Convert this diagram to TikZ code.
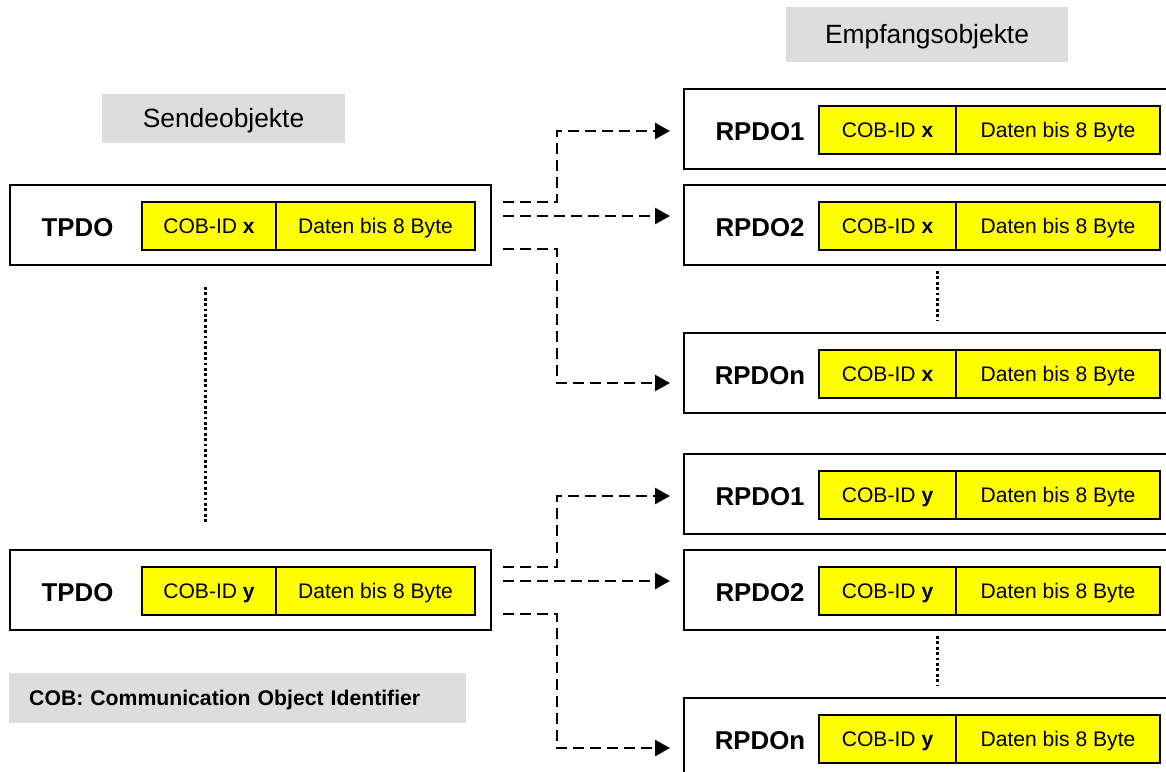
\documentclass[tikz,border=0pt]{standalone}
\usepackage{fontspec}
\setmainfont{Liberation Sans}
\usetikzlibrary{arrows.meta,positioning}
\definecolor{panelgray}{HTML}{DDDDDD}
\definecolor{fieldyellow}{HTML}{FFFF00}

\begin{document}
\begin{tikzpicture}[x=1pt, y=-1pt, every node/.style={inner sep=0pt}, title/.style={fill=panelgray, font=\fontsize{26.4}{30}\selectfont, text height=18.9pt, text depth=0pt}, pdobox/.style={draw, line width=2pt, minimum height=80pt}, pdolabel/.style={font=\fontsize{25.8}{30}\selectfont\bfseries, text height=18.5pt, text depth=0pt}, field/.style={draw, line width=2pt, outer sep=0pt, fill=fieldyellow, font=\fontsize{21.1}{25}\selectfont, minimum height=48pt, text height=15.1pt, text depth=0pt}, note/.style={fill=panelgray, font=\fontsize{21.2}{25}\selectfont\bfseries, inner xsep=20pt, text width=417pt, align=left, minimum height=50pt, text height=15.2pt, text depth=0pt}, link/.style={dash pattern=on 11pt off 6pt, line width=2.4pt, -{Triangle[length=15pt,width=16pt]}}, more/.style={dash pattern=on 2.8pt off 2.6pt, line width=3pt}]
\useasboundingbox (0,0) rectangle (1166,771);
\clip (0,0) rectangle (1166,771);
\node[title, minimum width=243pt, minimum height=49pt] (send) at (223.5,118.5) {Sendeobjekte};
\node[title, minimum width=282pt, minimum height=55pt] (recv) at (927,34.5) {Empfangsobjekte};
% TPDO with COB-ID x
\node[pdobox, minimum width=481pt, anchor=north west] (tpdoX) at (9,184) {};
\node[pdolabel] (tpdoXname) at ([xshift=68.5pt,yshift=-2pt]tpdoX.west) {TPDO};
\node[field, minimum width=134pt, anchor=west] (tpdoXcob) at ([xshift=133pt,yshift=-1pt]tpdoX.west) {COB-ID \textbf{x}};
\node[field, minimum width=199pt, right=0pt of tpdoXcob] (tpdoXdata) {Daten bis 8 Byte};
% TPDO with COB-ID y
\node[pdobox, minimum width=481pt, anchor=north west] (tpdoY) at (9,549) {};
\node[pdolabel] (tpdoYname) at ([xshift=68.5pt,yshift=-2pt]tpdoY.west) {TPDO};
\node[field, minimum width=134pt, anchor=west] (tpdoYcob) at ([xshift=133pt,yshift=-1pt]tpdoY.west) {COB-ID \textbf{y}};
\node[field, minimum width=199pt, right=0pt of tpdoYcob] (tpdoYdata) {Daten bis 8 Byte};
% receivers for x
\node[pdobox, minimum width=507pt, anchor=north west] (rxA) at (683,88) {};
\node[pdolabel] (rxAname) at ([xshift=77pt,yshift=-2pt]rxA.west) {RPDO1};
\node[field, minimum width=137pt, anchor=west] (rxAcob) at ([xshift=136pt,yshift=-1pt]rxA.west) {COB-ID \textbf{x}};
\node[field, minimum width=204pt, right=0pt of rxAcob] (rxAdata) {Daten bis 8 Byte};
\node[pdobox, minimum width=507pt, anchor=north west] (rxB) at (683,184) {};
\node[pdolabel] (rxBname) at ([xshift=77pt,yshift=-2pt]rxB.west) {RPDO2};
\node[field, minimum width=137pt, anchor=west] (rxBcob) at ([xshift=136pt,yshift=-1pt]rxB.west) {COB-ID \textbf{x}};
\node[field, minimum width=204pt, right=0pt of rxBcob] (rxBdata) {Daten bis 8 Byte};
\node[pdobox, minimum width=507pt, anchor=north west] (rxN) at (683,332) {};
\node[pdolabel] (rxNname) at ([xshift=77pt,yshift=-2pt]rxN.west) {RPDOn};
\node[field, minimum width=137pt, anchor=west] (rxNcob) at ([xshift=136pt,yshift=-1pt]rxN.west) {COB-ID \textbf{x}};
\node[field, minimum width=204pt, right=0pt of rxNcob] (rxNdata) {Daten bis 8 Byte};
% receivers for y
\node[pdobox, minimum width=507pt, anchor=north west] (ryA) at (683,453) {};
\node[pdolabel] (ryAname) at ([xshift=77pt,yshift=-2pt]ryA.west) {RPDO1};
\node[field, minimum width=137pt, anchor=west] (ryAcob) at ([xshift=136pt,yshift=-1pt]ryA.west) {COB-ID \textbf{y}};
\node[field, minimum width=204pt, right=0pt of ryAcob] (ryAdata) {Daten bis 8 Byte};
\node[pdobox, minimum width=507pt, anchor=north west] (ryB) at (683,549) {};
\node[pdolabel] (ryBname) at ([xshift=77pt,yshift=-2pt]ryB.west) {RPDO2};
\node[field, minimum width=137pt, anchor=west] (ryBcob) at ([xshift=136pt,yshift=-1pt]ryB.west) {COB-ID \textbf{y}};
\node[field, minimum width=204pt, right=0pt of ryBcob] (ryBdata) {Daten bis 8 Byte};
\node[pdobox, minimum width=507pt, anchor=north west] (ryN) at (683,697) {};
\node[pdolabel] (ryNname) at ([xshift=77pt,yshift=-2pt]ryN.west) {RPDOn};
\node[field, minimum width=137pt, anchor=west] (ryNcob) at ([xshift=136pt,yshift=-1pt]ryN.west) {COB-ID \textbf{y}};
\node[field, minimum width=204pt, right=0pt of ryNcob] (ryNdata) {Daten bis 8 Byte};
\node[note, anchor=west] (cobnote) at (9,698) {COB: Communication Object Identifier};
% dotted gaps
\draw[more] (205,287) -- (205,522);
\draw[more] (937,271) -- (937,320);
\draw[more] (937,636) -- (937,685);
% one sender, many receivers
\draw[link] ([xshift=11pt,yshift=23pt]tpdoX.east) -- ++(54,0) |- ([xshift=-13pt,yshift=-2pt]rxA.west);
\draw[link] ([xshift=11pt,yshift=9pt]tpdoX.east) -- ([xshift=-13pt,yshift=9pt]rxB.west);
\draw[link] ([xshift=11pt,yshift=-24pt]tpdoX.east) -- ++(54,0) |- ([xshift=-13pt,yshift=-10pt]rxN.west);
\draw[link] ([xshift=11pt,yshift=23pt]tpdoY.east) -- ++(54,0) |- ([xshift=-13pt,yshift=-2pt]ryA.west);
\draw[link] ([xshift=11pt,yshift=9pt]tpdoY.east) -- ([xshift=-13pt,yshift=9pt]ryB.west);
\draw[link] ([xshift=11pt,yshift=-24pt]tpdoY.east) -- ++(54,0) |- ([xshift=-13pt,yshift=-10pt]ryN.west);
\end{tikzpicture}
\end{document}
